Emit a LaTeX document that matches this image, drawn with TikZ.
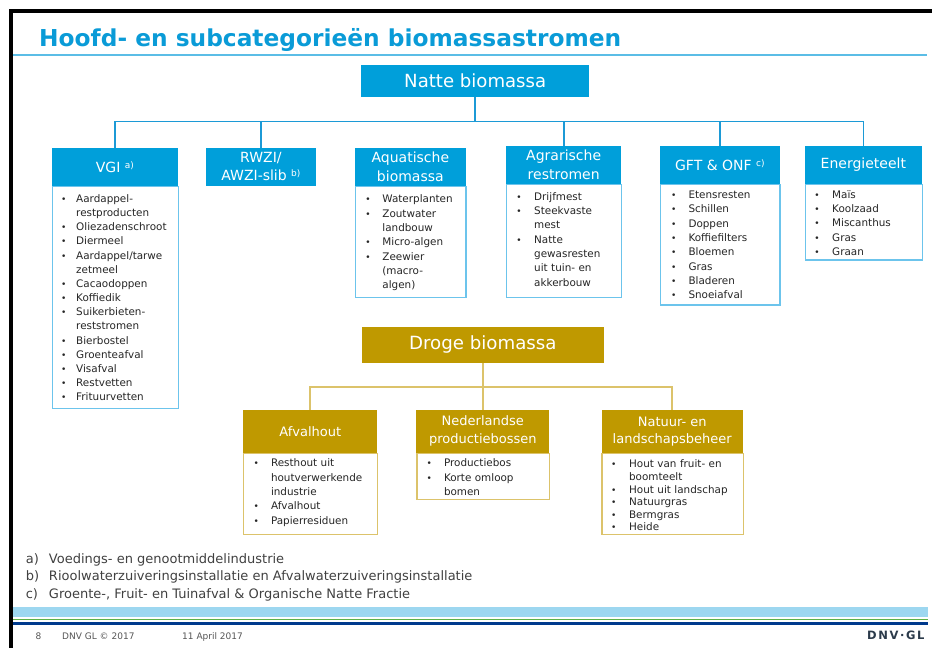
\documentclass[tikz,border=0pt]{standalone}
\usepackage{fontspec}
\setmainfont{DejaVu Sans}
\usepackage{graphicx}
\definecolor{nblue}{HTML}{009FDA}
\definecolor{tblue}{HTML}{0A9BD7}
\definecolor{lblue}{HTML}{6CC4EC}
\definecolor{cblue}{HTML}{1C9AD6}
\definecolor{tline}{HTML}{5BBDE6}
\definecolor{gold}{HTML}{BF9900}
\definecolor{lgold}{HTML}{DCC36B}
\definecolor{tdark}{HTML}{262626}
\definecolor{fgray}{HTML}{404040}
\definecolor{ftgray}{HTML}{555555}
\definecolor{bandlb}{HTML}{9DD7F0}
\definecolor{bandgr}{HTML}{5DB045}
\definecolor{bandnv}{HTML}{003A8C}
\definecolor{logoc}{HTML}{2B3A4A}
\newlength\bw
\newcommand\itm{\makebox[\bw][l]{\fontsize{9}{9}\selectfont\textbullet}}
\newcommand\cnt{\hspace*{\bw}}
\newcommand\fnm[1]{\raisebox{4pt}{\fontsize{9}{9}\selectfont #1}}
\begin{document}
\begin{tikzpicture}[x=1pt,y=-1pt,
  bhead/.style={rectangle, fill=nblue, text=white, inner sep=0pt, align=center, font=\fontsize{14}{18.5}\selectfont, anchor=north west},
  ghead/.style={rectangle, fill=gold, text=white, inner sep=0pt, align=center, font=\fontsize{13}{17.6}\selectfont, anchor=north west},
  blbox/.style={rectangle, draw=lblue, line width=1.3pt, fill=white, inner sep=0pt, anchor=north west},
  glbox/.style={rectangle, draw=lgold, line width=1.3pt, fill=white, inner sep=0pt, anchor=north west},
  ltext/.style={anchor=base west, inner sep=0pt, text width=140pt, align=left, text=tdark},
  bcon/.style={draw=cblue, line width=1.6pt},
  gcon/.style={draw=lgold, line width=1.8pt},
  fnote/.style={anchor=base west, inner sep=0pt, text=fgray, font=\fontsize{13}{15}\selectfont},
  foot/.style={anchor=base west, inner sep=0pt, text=ftgray, font=\fontsize{9}{11}\selectfont}
]
\useasboundingbox (0,0) rectangle (932,648);
% frame
\fill[black] (9,9) rectangle (932,13);
\fill[black] (9,9) rectangle (13,648);
% title
\node[anchor=base west, inner sep=0pt, text=tblue, font=\fontsize{23.3}{28}\selectfont\bfseries] (title) at (39,46.7) {Hoofd- en subcategorieën biomassastromen};
\draw[tline, line width=2pt] (13,55) -- (927,55);

% ---------- Natte biomassa ----------
\node[bhead, minimum width=228pt, minimum height=32.5pt, font=\fontsize{18.1}{22}\selectfont] (natte) at (361,64.5) {Natte biomassa};

\node[blbox, minimum width=126pt, minimum height=222.5pt] (vgiB) at (51.7,185.5) {};
\node[blbox, minimum width=110.3pt, minimum height=111.2pt] (aquB) at (355,185.5) {};
\node[blbox, minimum width=115pt, minimum height=113.2pt] (agrB) at (506,183.5) {};
\node[blbox, minimum width=119.3pt, minimum height=120.8pt] (gftB) at (660,183.5) {};
\node[blbox, minimum width=117pt, minimum height=75.8pt] (eneB) at (804.7,183.5) {};

\node[bhead, minimum width=126pt, minimum height=38pt] (vgi) at (51.7,147.5) {VGI \fnm{a)}};
\node[bhead, minimum width=110pt, minimum height=38pt] (rwzi) at (205.7,147.5) {RWZI/\\AWZI-slib \fnm{b)}};
\node[bhead, minimum width=110.3pt, minimum height=38pt] (aqu) at (355,147.5) {Aquatische\\biomassa};
\node[bhead, minimum width=115pt, minimum height=37.8pt] (agr) at (506,145.7) {Agrarische\\restromen};
\node[bhead, minimum width=119.3pt, minimum height=37.8pt] (gft) at (660,145.7) {GFT \& ONF \fnm{c)}};
\node[bhead, minimum width=117pt, minimum height=37.8pt] (ene) at (804.7,145.7) {Energieteelt};

\coordinate (nbus) at (0,121.5);
\draw[bcon] (natte.south) -- (natte.south |- nbus) -| (vgi.north);
\draw[bcon] (natte.south) -- (natte.south |- nbus) -| (rwzi.north);
\draw[bcon] (natte.south) -- (natte.south |- nbus) -| (agr.north);
\draw[bcon] (natte.south) -- (natte.south |- nbus) -| (gft.north);
\draw[bcon] (natte.south) -- (natte.south |- nbus) -| (ene.north);

\node[ltext, font=\fontsize{10.4}{14.16}\selectfont] (vgiL) at (61,202.5) {\setlength\bw{15pt}%
\itm Aardappel-\\ \cnt restproducten\\ \itm Oliezadenschroot\\ \itm Diermeel\\ \itm Aardappel/tarwe\\ \cnt zetmeel\\ \itm Cacaodoppen\\ \itm Koffiedik\\ \itm Suikerbieten-\\ \cnt reststromen\\ \itm Bierbostel\\ \itm Groenteafval\\ \itm Visafval\\ \itm Restvetten\\ \itm Frituurvetten};
\node[ltext, font=\fontsize{10.4}{14.3}\selectfont] (aquL) at (365.2,202.8) {\setlength\bw{17pt}%
\itm Waterplanten\\ \itm Zoutwater\\ \cnt landbouw\\ \itm Micro-algen\\ \itm Zeewier\\ \cnt (macro-\\ \cnt algen)};
\node[ltext, font=\fontsize{10.4}{14.3}\selectfont] (agrL) at (516.2,200.2) {\setlength\bw{17.8pt}%
\itm Drijfmest\\ \itm Steekvaste\\ \cnt mest\\ \itm Natte\\ \cnt gewasresten\\ \cnt uit tuin- en\\ \cnt akkerbouw};
\node[ltext, font=\fontsize{10.4}{14.3}\selectfont] (gftL) at (670.8,198.5) {\setlength\bw{17.5pt}%
\itm Etensresten\\ \itm Schillen\\ \itm Doppen\\ \itm Koffiefilters\\ \itm Bloemen\\ \itm Gras\\ \itm Bladeren\\ \itm Snoeiafval};
\node[ltext, font=\fontsize{10.4}{14.2}\selectfont] (eneL) at (814.2,198.5) {\setlength\bw{17.8pt}%
\itm Maïs\\ \itm Koolzaad\\ \itm Miscanthus\\ \itm Gras\\ \itm Graan};

% ---------- Droge biomassa ----------
\node[ghead, minimum width=242.2pt, minimum height=36pt, font=\fontsize{18.2}{22}\selectfont] (droge) at (361.5,326.7) {Droge biomassa};

\node[glbox, minimum width=133.9pt, minimum height=81.5pt] (afvB) at (243.1,452.5) {};
\node[glbox, minimum width=132.8pt, minimum height=46.5pt] (nedB) at (416.2,452.5) {};
\node[glbox, minimum width=141.5pt, minimum height=81pt] (natB) at (601.3,452.5) {};

\node[ghead, minimum width=133.9pt, minimum height=42.5pt] (afv) at (243.1,410) {Afvalhout};
\node[ghead, minimum width=132.8pt, minimum height=43pt] (ned) at (416.2,409.5) {Nederlandse\\productiebossen};
\node[ghead, minimum width=141.5pt, minimum height=43pt] (nat) at (601.3,410) {Natuur- en\\landschapsbeheer};

\coordinate (gbus) at (0,386.7);
\draw[gcon] (droge.south) -- (droge.south |- gbus) -| (afv.north);
\draw[gcon] (droge.south) -- (droge.south |- gbus) -| (ned.north);
\draw[gcon] (droge.south) -- (droge.south |- gbus) -| (nat.north);

\node[ltext, font=\fontsize{10.4}{14.35}\selectfont] (afvL) at (253.4,466.8) {\setlength\bw{17.4pt}%
\itm Resthout uit\\ \cnt houtverwerkende\\ \cnt industrie\\ \itm Afvalhout\\ \itm Papierresiduen};
\node[ltext, font=\fontsize{10.4}{14.3}\selectfont] (nedL) at (426.4,466.8) {\setlength\bw{17.4pt}%
\itm Productiebos\\ \itm Korte omloop\\ \cnt bomen};
\node[ltext, font=\fontsize{10.4}{12.6}\selectfont] (natL) at (610.9,467.8) {\setlength\bw{18pt}%
\itm Hout van fruit- en\\ \cnt boomteelt\\ \itm Hout uit landschap\\ \itm Natuurgras\\ \itm Bermgras\\ \itm Heide};

% ---------- footnotes ----------
\node[fnote] (fa) at (25.6,563.8) {\makebox[23.2pt][l]{a)}Voedings- en genootmiddelindustrie};
\node[fnote] (fb) at (25.6,580.8) {\makebox[23.2pt][l]{b)}Rioolwaterzuiveringsinstallatie en Afvalwaterzuiveringsinstallatie};
\node[fnote] (fc) at (25.6,598) {\makebox[23.2pt][l]{c)}Groente-, Fruit- en Tuinafval \& Organische Natte Fractie};

% ---------- footer ----------
\fill[bandlb] (13,606.5) rectangle (928,616.5);
\fill[bandgr] (13,618.7) rectangle (928,620.1);
\fill[bandnv] (13,621.8) rectangle (928,624.8);
\node[foot] (pg) at (35.5,639.5) {8};
\node[foot] (cp) at (62,639.5) {DNV GL © 2017};
\node[foot] (dt) at (182,639.5) {11 April 2017};
\node[anchor=base west, inner sep=0pt, text=logoc, font=\fontsize{11.5}{13}\selectfont\bfseries] (logo) at (867,639.5) {\addfontfeature{LetterSpace=14}DNV·GL};
\end{tikzpicture}
\end{document}
